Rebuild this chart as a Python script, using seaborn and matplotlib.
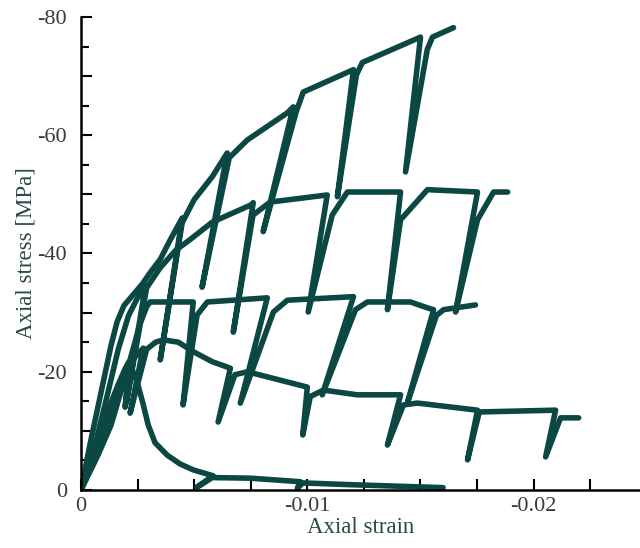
import numpy as np
import pandas as pd
import matplotlib
matplotlib.use('Agg')
import matplotlib.pyplot as plt
from matplotlib.ticker import MultipleLocator, FuncFormatter
import seaborn as sns

# Triaxial tests with unload/reload cycles (strain, stress in MPa)
strain_a = [0, -0.00044, -0.00088, -0.00133, -0.0016, -0.0019, -0.0023, -0.0027, -0.0031, -0.0035,
            -0.0039, -0.00447, -0.0035, -0.00447, -0.0050, -0.0058, -0.00646, -0.00535, -0.00655,
            -0.00735, -0.00912, -0.00938, -0.00805, -0.00951, -0.00982, -0.01204, -0.01133,
            -0.01217, -0.01243, -0.0150, -0.01434, -0.0153, -0.01553, -0.01646]
stress_a = [0, -8.5, -16.4, -24.5, -28.5, -31.2, -33.0, -34.8, -37.0, -39.0,
            -42.0, -46.0, -22.0, -45.2, -49.1, -53.0, -57.0, -34.3, -56.2,
            -59.2, -63.8, -64.8, -43.7, -64.0, -67.3, -71.1, -49.6,
            -70.2, -72.3, -76.6, -53.8, -74.5, -76.6, -78.2]

strain_b = [0, -0.00062, -0.00111, -0.00164, -0.0021, -0.0025, -0.00285, -0.0020, -0.0029,
            -0.0035, -0.0042, -0.0048, -0.0058, -0.0075, -0.00761, -0.00673, -0.0076, -0.00836,
            -0.01088, -0.01004, -0.0111, -0.01177, -0.01412, -0.01354, -0.01412, -0.01531,
            -0.01752, -0.01655, -0.01752, -0.01823, -0.01885]
stress_b = [0, -7.6, -15.2, -23.7, -29.5, -32.5, -34.6, -14.7, -34.2,
            -37.6, -40.6, -42.3, -45.3, -48.2, -48.6, -26.7, -46.5, -48.7,
            -49.9, -30.1, -46.5, -50.4, -50.4, -30.5, -45.7, -50.8,
            -50.4, -30.1, -45.7, -50.4, -50.4]

strain_c = [0, -0.00075, -0.00133, -0.00208, -0.0026, -0.0029, -0.00305, -0.00496, -0.00451, -0.00513,
            -0.00558, -0.00823, -0.00704, -0.0085, -0.00912, -0.01204, -0.01066, -0.01213,
            -0.01265, -0.01456, -0.01531, -0.01558, -0.01442, -0.0157, -0.01602, -0.01743]
stress_c = [0, -5.9, -11.0, -20.8, -28.0, -31.0, -31.8, -31.8, -14.4, -29.6,
            -31.8, -32.5, -14.7, -30.1, -32.1, -32.7, -16.1, -30.5,
            -31.8, -31.8, -30.8, -30.5, -14.7, -29.5, -30.5, -31.3]

strain_d = [0, -0.00071, -0.00119, -0.00181, -0.00235, -0.00275, -0.00217, -0.0029, -0.0033, -0.00363,
            -0.0043, -0.00496, -0.0058, -0.0066, -0.00606, -0.0068, -0.00735, -0.0100, -0.0098,
            -0.01013, -0.01071, -0.01221, -0.01412, -0.01354, -0.01425, -0.01487, -0.01752,
            -0.01708, -0.0176, -0.02097, -0.02053, -0.02119, -0.02199]
stress_d = [0, -6.4, -11.8, -18.6, -22.3, -24.0, -13.0, -23.8, -25.0, -25.4,
            -25.0, -23.4, -21.7, -20.6, -11.5, -19.5, -20.0, -17.4, -9.3,
            -15.8, -16.9, -16.1, -16.1, -7.6, -14.4, -14.7, -13.5,
            -5.1, -13.2, -13.5, -5.6, -12.2, -12.2]

strain_e = [0, -0.00062, -0.00111, -0.00164, -0.00195, -0.00212, -0.00195, -0.0022, -0.0025, -0.00274,
            -0.00297, -0.00327, -0.00381, -0.00438, -0.00496, -0.00584, -0.00513, -0.0058,
            -0.00748, -0.00969, -0.00956, -0.0098, -0.0119, -0.0160]
stress_e = [0, -6.8, -12.7, -17.8, -20.5, -21.7, -14.0, -21.0, -18.0, -14.6,
            -11.0, -8.0, -5.9, -4.4, -3.4, -2.4, -0.5, -2.1,
            -2.0, -1.4, -0.3, -1.2, -0.9, -0.4]

tests = {'A': (strain_a, stress_a), 'B': (strain_b, stress_b), 'C': (strain_c, stress_c),
         'D': (strain_d, stress_d), 'E': (strain_e, stress_e)}

LINE = '#0b4743'
TXT = '#3a3a3a'

rows = []
for name, (sx, sy) in tests.items():
    for i, (a, b) in enumerate(zip(sx, sy)):
        rows.append({'test': name, 'step': i, 'strain': a, 'stress': b})
df = pd.DataFrame(rows)

sns.set_style('ticks')
plt.rcParams['font.family'] = ['Liberation Serif', 'DejaVu Serif']
plt.rcParams['axes.unicode_minus'] = False

fig = plt.figure(figsize=(6.4, 5.48), dpi=100, facecolor='white')
ax = fig.add_axes([81/640, 58/548, 559/640, 473/548])

sns.lineplot(data=df, x='strain', y='stress', units='test', estimator=None, sort=False,
             color=LINE, linewidth=4.0, ax=ax, legend=False)

ax.set_xlim(0, -0.0247)
ax.set_ylim(0, -80)
sns.despine(ax=ax)
for s in ['left', 'bottom']:
    ax.spines[s].set_linewidth(1.8)
    ax.spines[s].set_color('black')

ax.xaxis.set_major_locator(MultipleLocator(0.01))
ax.xaxis.set_minor_locator(MultipleLocator(0.0025))
ax.yaxis.set_major_locator(MultipleLocator(10))
ax.yaxis.set_minor_locator(MultipleLocator(5))
ax.xaxis.set_major_formatter(FuncFormatter(lambda v, p: '0' if abs(v) < 1e-9 else f'{v:.2f}'))
ax.yaxis.set_major_formatter(FuncFormatter(lambda v, p: f'{v:.0f}' if round(v) % 20 == 0 else ''))

ax.tick_params(axis='both', which='both', direction='in', width=1.5, colors='black',
               labelcolor=TXT, labelsize=16)
ax.tick_params(axis='x', which='both', length=8, pad=5)
ax.tick_params(axis='y', which='major', length=8, pad=10)
ax.tick_params(axis='y', which='minor', length=6)

ax.set_xlabel('Axial strain', fontsize=16.5, color='#2a4a48', labelpad=1)
ax.set_ylabel('Axial stress [MPa]', fontsize=16.5, color='#2a4a48', labelpad=1)

plt.savefig('out.png', dpi=100, facecolor='white')
plt.close()
